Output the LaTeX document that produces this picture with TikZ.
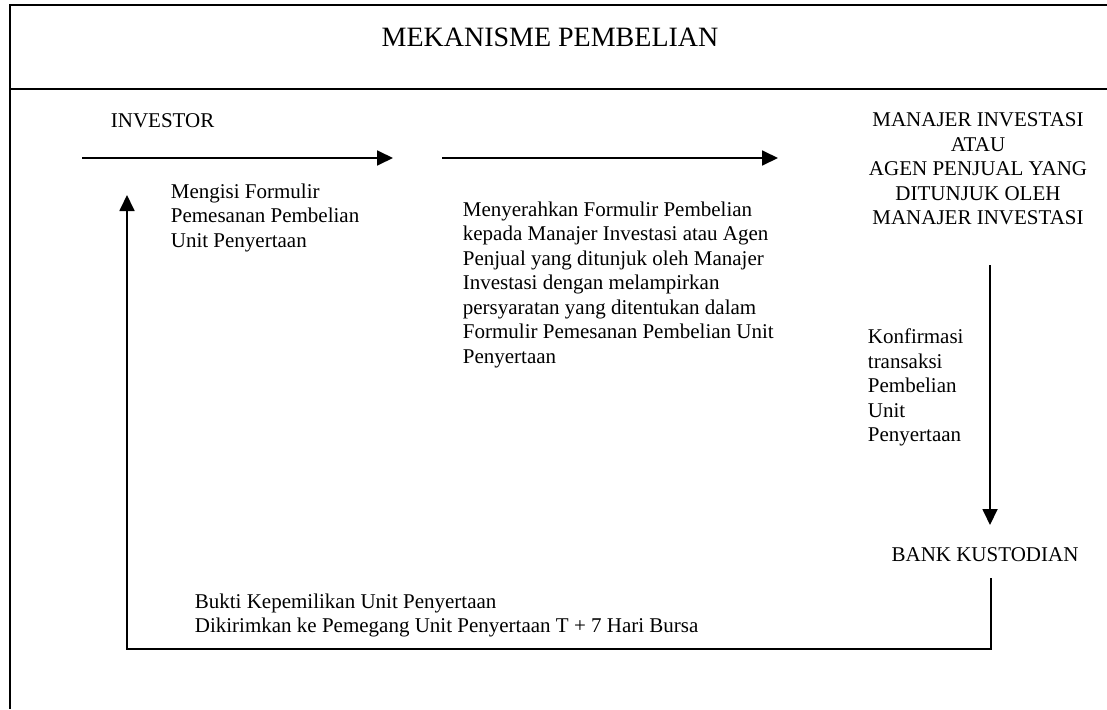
\documentclass[tikz,border=0pt]{standalone}
\usepackage{fontspec}
\setmainfont{Liberation Serif}
\usetikzlibrary{arrows.meta}

\begin{document}
\begin{tikzpicture}[x=1pt,y=-1pt,line width=1.8pt,>={Triangle[length=16pt,width=15pt]},
    text node/.style={inner sep=0pt,font=\fontsize{21}{24.5}\selectfont,align=left,anchor=north west},
    head node/.style={inner sep=0pt,font=\fontsize{21}{24.5}\selectfont,align=center}]
    \useasboundingbox (0,0) rectangle (1107,709);

    % frame
    \draw (1107,5) -- (10,5) -- (10,709);
    \draw (10,89) -- (1107,89);
    \node[inner sep=0pt,font=\fontsize{28}{32}\selectfont] (title) at (550,37) {MEKANISME PEMBELIAN};

    \node[head node,anchor=west] (inv) at (110,121) {INVESTOR};
    \node[head node] (mi) at (978,169) {MANAJER INVESTASI\\ATAU\\AGEN PENJUAL YANG\\DITUNJUK OLEH\\MANAJER INVESTASI};
    \node[head node] (bank) at (985,555) {BANK KUSTODIAN};

    \node[text node] (isi) at (170,183) {Mengisi Formulir\\Pemesanan Pembelian\\Unit Penyertaan};
    \node[text node] (serah) at (462,201) {Menyerahkan Formulir Pembelian\\kepada Manajer Investasi atau Agen\\Penjual yang ditunjuk oleh Manajer\\Investasi dengan melampirkan\\persyaratan yang ditentukan dalam\\Formulir Pemesanan Pembelian Unit\\Penyertaan};
    \node[text node] (konf) at (867,328) {Konfirmasi\\transaksi\\Pembelian\\Unit\\Penyertaan};
    \node[text node] (bukti) at (194,593) {Bukti Kepemilikan Unit Penyertaan\\Dikirimkan ke Pemegang Unit Penyertaan T + 7 Hari Bursa};

    \coordinate (a1) at (82,158);
    \coordinate (b1) at (393,158);
    \coordinate (a2) at (442,158);
    \coordinate (b2) at (778,158);
    \coordinate (v1) at (990,265);
    \coordinate (v2) at (990,525);
    \coordinate (r1) at (991,578);
    \coordinate (r2) at (127,649);
    \coordinate (r3) at (127,195);

    \draw[->] (a1) -- (b1);
    \draw[->] (a2) -- (b2);
    \draw[->] (v1) -- (v2);
    \draw[->] (r1) |- (r2) -- (r3);
\end{tikzpicture}
\end{document}
